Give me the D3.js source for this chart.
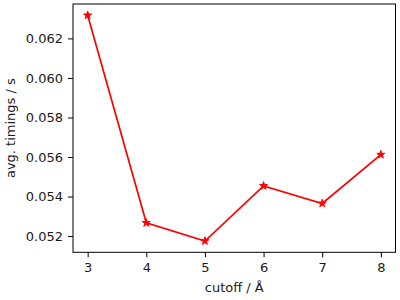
<!DOCTYPE html>
<html>
<head>
<meta charset="utf-8">
<script src="https://cdn.jsdelivr.net/npm/d3@7"></script>
<style>
  body { margin: 0; background: #fff; }
  svg { display: block; font-family: "DejaVu Sans", sans-serif; }
</style>
</head>
<body>
<div id="chart"></div>
<script>
// data
var cutoffs = [3, 4, 5, 6, 7, 8];
var timings = [0.06317, 0.05267, 0.05175, 0.05454, 0.05365, 0.05612];
var yTicks = [0.052, 0.054, 0.056, 0.058, 0.060, 0.062];

var svgWidth = 400, svgHeight = 300;
var margin = {top: 4, right: 4.5, bottom: 47.7, left: 73};
var width = svgWidth - margin.left - margin.right;
var height = svgHeight - margin.top - margin.bottom;

var svg = d3.select("#chart").append("svg")
    .attr("width", svgWidth)
    .attr("height", svgHeight);

var g = svg.append("g")
    .attr("transform", "translate(" + margin.left + "," + margin.top + ")");

// matplotlib-ish 5% margins
var xPad = (d3.max(cutoffs) - d3.min(cutoffs)) * 0.05;
var yPad = (d3.max(timings) - d3.min(timings)) * 0.05;

var x = d3.scaleLinear()
    .domain([d3.min(cutoffs) - xPad, d3.max(cutoffs) + xPad])
    .range([0, width]);

var y = d3.scaleLinear()
    .domain([d3.min(timings) - yPad, d3.max(timings) + yPad])
    .range([height, 0]);

// AXES
var xAxis = g.append("g")
    .attr("transform", "translate(0," + height + ")")
    .call(d3.axisBottom(x).tickValues(cutoffs).tickFormat(d3.format("d")).tickSizeInner(5).tickSizeOuter(0).tickPadding(5));

var yAxis = g.append("g")
    .call(d3.axisLeft(y).tickValues(yTicks).tickFormat(d3.format(".3f")).tickSizeInner(5).tickSizeOuter(0).tickPadding(5));

[xAxis, yAxis].forEach(function(a) {
    a.attr("font-family", null).attr("font-size", 13);
    a.select(".domain").remove();
    a.selectAll(".tick line").attr("stroke", "#000").attr("stroke-width", 1);
    a.selectAll(".tick text").attr("fill", "#1a1a1a");
});

// frame
g.append("rect")
    .attr("width", width)
    .attr("height", height)
    .attr("fill", "none")
    .attr("stroke", "#000")
    .attr("stroke-width", 1);

// LINE
var line = d3.line()
    .x(function(d, i) { return x(cutoffs[i]); })
    .y(function(d) { return y(d); });

g.append("path")
    .datum(timings)
    .attr("d", line)
    .attr("fill", "none")
    .attr("stroke", "red")
    .attr("stroke-width", 1.7);

// star markers
var star = d3.symbol().type(d3.symbolStar).size(20);
g.selectAll(".marker")
    .data(timings)
    .enter()
    .append("path")
    .attr("class", "marker")
    .attr("d", star)
    .attr("transform", function(d, i) { return "translate(" + x(cutoffs[i]) + "," + y(d) + ")"; })
    .attr("fill", "red")
    .attr("stroke", "red")
    .attr("stroke-width", 1);

// AXIS LABELS
svg.append("text")
    .attr("x", margin.left + width / 2)
    .attr("y", 292)
    .attr("text-anchor", "middle")
    .attr("font-size", "13px")
    .attr("fill", "#1a1a1a")
    .text("cutoff / Å");

svg.append("text")
    .attr("transform", "translate(15," + (margin.top + height / 2) + ") rotate(-90)")
    .attr("text-anchor", "middle")
    .attr("font-size", "13px")
    .attr("fill", "#1a1a1a")
    .text("avg. timings / s");
</script>
</body>
</html>
